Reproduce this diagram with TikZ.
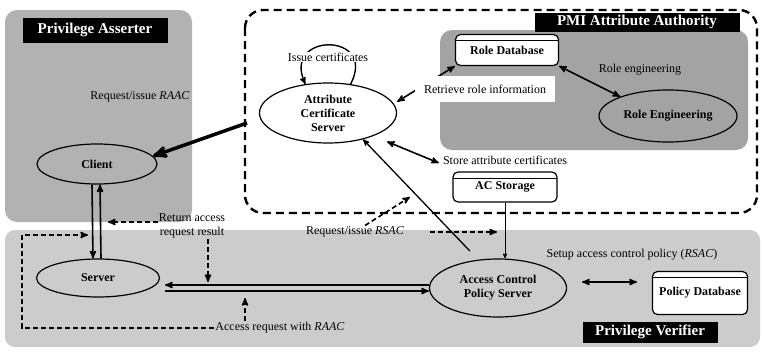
\documentclass[tikz,border=0pt]{standalone}
\usepackage{fontspec}
\setmainfont{Liberation Serif}
\usepackage{xcolor}
\usepackage{tikz}
\usetikzlibrary{shapes,arrows,positioning}
\tikzstyle{proc} = [ellipse, draw, line width=1.2pt, text centered, inner sep=0pt, font=\bfseries]
\tikzstyle{store} = [rectangle, draw, line width=1.2pt, fill=white, rounded corners=5pt,
    inner sep=0pt, font=\bfseries,
    path picture={\draw[thick] ([yshift=-6pt]path picture bounding box.north west) -- ([yshift=-6pt]path picture bounding box.north east);}]
\tikzstyle{tag} = [rectangle, fill=black, text=white, inner sep=0pt,
    font=\fontsize{15}{17}\selectfont\bfseries]
\tikzstyle{note} = [inner sep=1pt]
\tikzstyle{flow} = [->, line width=1.6pt]
\tikzstyle{twoway} = [<->, line width=1.6pt]
\tikzstyle{hint} = [->, line width=1.6pt, dash pattern=on 5pt off 3pt]

\begin{document}
\fontsize{12}{14}\selectfont
\begin{tikzpicture}[x=1pt, y=-1pt, >=stealth', node distance=2.0cm, auto]
    \useasboundingbox (0,0) rectangle (763,351);

    % Regions
    \fill[black!30, rounded corners=12pt] (5,10) rectangle (192,222);
    \fill[black!20, rounded corners=10pt] (5,230) rectangle (760,347);
    \fill[black!36, rounded corners=12pt] (440,30) rectangle (748,150);
    \draw[line width=2.4pt, dash pattern=on 8pt off 5pt, rounded corners=18pt] (245,10) rectangle (757,213);

    % Place nodes
    \node [tag, minimum width=145pt, minimum height=25pt] (Asserter) at (95,30) {Privilege Asserter};
    \node [tag, minimum width=205pt, minimum height=19pt] (PMI) at (637,22) {PMI Attribute Authority};
    \node [tag, minimum width=135pt, minimum height=21pt] (Verifier) at (650,332) {Privilege Verifier};

    \node [proc, minimum width=120pt, minimum height=40pt] (Client) at (97,164) {Client};
    \node [proc, minimum width=123pt, minimum height=38pt] (Server) at (98,278) {Server};
    \node [proc, minimum width=137pt, minimum height=60pt, align=center] (CertServer) at (328,113) {Attribute\\Certificate\\Server};
    \node [proc, minimum width=137pt, minimum height=58pt, align=center] (PolicyServer) at (498,288) {Access Control\\Policy Server};
    \node [proc, minimum width=138pt, minimum height=52pt] (RoleEng) at (668,116) {Role Engineering};
    \node [store, minimum width=103pt, minimum height=31pt] (RoleDB) at (507,50) {Role Database};
    \node [store, minimum width=104pt, minimum height=30pt] (ACStorage) at (505,187) {AC Storage};
    \node [store, minimum width=95pt, minimum height=43pt] (PolicyDB) at (700,293) {Policy Database};

    \coordinate (PMIleft) at (247,123);
    \coordinate (RSACend) at (410,197);
    \coordinate (LoopCorner) at (22,235);

    \draw [->, line width=1.4pt] (CertServer.52) .. controls (378,32) and (282,32) .. (CertServer.128);
    \draw [twoway] ([xshift=5pt]CertServer.10) -- (RoleDB.south west);

    % Labels
    \node [note] (RAACtxt) at (140,97) {Request/issue \textit{RAAC}};
    \node [note, fill=white, above=20pt of CertServer] (IssueTxt) {Issue certificates};
    \node [note, fill=white, minimum width=140pt, minimum height=26pt] (RetrieveTxt) at (485,89) {Retrieve role information};
    \node [note] (RoleEngTxt) at (640,70) {Role engineering};
    \node [note] (StoreTxt) at (505,160) {Store attribute certificates};
    \node [note, align=center] (ReturnTxt) at (192,226) {Return access\\request result};
    \node [note] (RSACtxt) at (355,232) {Request/issue \textit{RSAC}};
    \node [note] (AccessTxt) at (280,328) {Access request with \textit{RAAC}};
    \node [note] (SetupTxt) at (632,255) {Setup access control policy (\textit{RSAC})};

    % Connectors
    \draw [->, line width=3.5pt] (PMIleft) -- (Client.8);
    \draw [flow] ([xshift=-5pt]Client.south) -- ([xshift=-5pt]Server.north);
    \draw [flow] ([xshift=3pt]Server.north) -- ([xshift=3pt]Client.south);
    \draw [flow] ([yshift=3pt]PolicyServer.west) -- ([xshift=5pt,yshift=3pt]PolicyServer.west -| Server.east);
    \draw [flow] ([xshift=5pt,yshift=-3pt]PolicyServer.west -| Server.east) -- ([yshift=-3pt]PolicyServer.west);
    \draw [->, line width=1.3pt, shorten <=12pt] (PolicyServer.125) -- (CertServer.-37);
    \draw [->, thick] (ACStorage.south) -- (ACStorage.south |- PolicyServer.north);
    \draw [twoway] ([xshift=-3pt,yshift=-3pt]StoreTxt.west) -- ([xshift=8pt,yshift=-8pt]CertServer.-22);
    \draw [twoway] (RoleDB.south east) -- (RoleEng.158);
    \draw [twoway] ([xshift=15pt,yshift=6pt]PolicyServer.east) -- ([xshift=-15pt,yshift=6pt]PolicyServer.east -| PolicyDB.west);

    \draw [hint] ([xshift=10pt]RSACtxt.north) -- (RSACend);
    \draw [hint] ([xshift=25pt]RSACtxt.east) -- ([xshift=-8pt]RSACtxt.east -| ACStorage.south);
    \draw [hint] ([yshift=4pt]ReturnTxt.west) -- ([xshift=11pt,yshift=4pt]ReturnTxt.west -| Client.south);
    \draw [hint] ([xshift=16pt]ReturnTxt.south) -- ([xshift=16pt,yshift=6pt]ReturnTxt.south |- PolicyServer.west);
    \draw [hint] ([xshift=-35pt]AccessTxt.north) -- ([xshift=-35pt,yshift=-10pt]AccessTxt.north |- PolicyServer.west);
    \draw [hint] (AccessTxt.west) -| (LoopCorner) -- ([xshift=-9pt]LoopCorner -| Client.south);

\end{tikzpicture}
\end{document}
